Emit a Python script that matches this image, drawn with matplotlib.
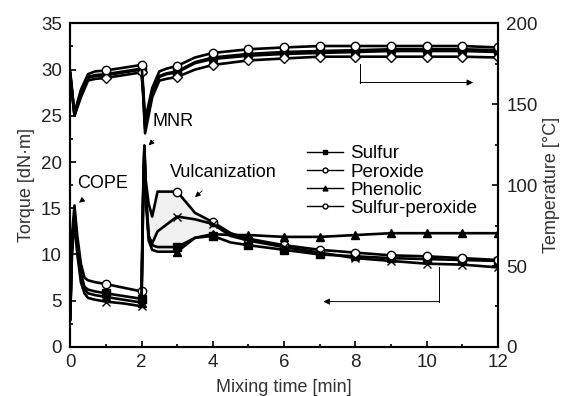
import numpy as np
import matplotlib.pyplot as plt
from matplotlib.lines import Line2D

plt.rcParams['font.family'] = ['Liberation Sans', 'DejaVu Sans']

# torque data [dN.m]
t_tq = [0, 0.05, 0.12, 0.2, 0.3, 0.4, 0.5, 0.7, 1, 1.5, 2, 2.04, 2.08, 2.12, 2.2, 2.3, 2.45,
        3, 3.5, 4, 4.5, 5, 6, 7, 8, 9, 10, 11, 12]
tq_sulfur = [3, 11, 14.5, 11, 8, 6.5, 6.2, 6.0, 5.8, 5.5, 5.2, 15, 21.5, 17, 12, 11.0, 10.8,
             10.8, 11.8, 12.0, 11.3, 11.0, 10.5, 10.0, 9.8, 9.6, 9.5, 9.4, 9.3]
tq_peroxide = [3, 12, 15.3, 12, 9, 7.5, 7.2, 7.0, 6.8, 6.4, 6.0, 16, 21.8, 18, 15.5, 14.1, 16.8,
               16.8, 14.5, 13.5, 12.3, 11.7, 11.0, 10.5, 10.2, 9.9, 9.8, 9.6, 9.4]
tq_phenolic = [3, 10, 13.5, 10.5, 7.5, 6.2, 5.8, 5.6, 5.4, 5.1, 4.8, 14, 21, 16, 11.5, 10.5, 10.3,
               10.3, 11.8, 12.2, 12.1, 12.1, 11.9, 11.9, 12.1, 12.3, 12.3, 12.3, 12.3]
tq_sulfperox = [3, 10.5, 13.8, 10, 7, 5.8, 5.3, 5.1, 4.9, 4.7, 4.4, 15, 21.7, 16.5, 12, 11.2, 12.5,
                14.1, 13.8, 13.3, 12.0, 11.5, 10.8, 10.2, 9.6, 9.3, 9.0, 8.9, 8.6]

# temperature data [C]
t_tp = [0, 0.12, 0.3, 0.5, 0.7, 1, 1.5, 2, 2.05, 2.1, 2.3, 2.5, 2.7, 3, 3.5, 4,
        5, 6, 7, 8, 9, 10, 11, 12]
tp_sulfur = [169.1, 143.4, 156.6, 166.9, 168.0, 168.6, 170.3, 172.0, 157.1, 137.1, 157.1, 167.4,
             169.1, 170.3, 176.0, 178.9, 181.1, 182.3, 182.9, 183.4, 184.0, 184.0, 184.0, 183.4]
tp_peroxide = [170.3, 144.6, 158.9, 168.6, 170.3, 170.9, 172.6, 174.3, 160.0, 140.0, 160.0, 170.3,
               172.0, 173.7, 178.9, 181.7, 184.0, 185.1, 186.0, 186.0, 186.0, 186.0, 186.0, 185.1]
tp_phenolic = [168.8, 143.0, 156.0, 166.3, 167.4, 168.0, 169.7, 171.4, 156.0, 135.0, 156.0, 166.9,
               168.6, 169.7, 175.4, 178.0, 180.0, 181.1, 181.7, 182.3, 182.9, 182.9, 182.9, 182.3]
tp_sulfperox = [168.6, 142.9, 154.3, 164.6, 165.7, 166.3, 168.0, 169.7, 154.3, 132.0, 154.3, 164.6,
                165.7, 166.9, 171.4, 174.3, 177.1, 178.3, 179.4, 179.4, 179.4, 179.4, 179.4, 178.9]


def marks(t):
    t = np.asarray(t)
    return list(np.where(np.isclose(t, np.round(t)) & (t >= 1))[0])


fig = plt.figure(figsize=(5.66, 3.96), dpi=100)
ax = fig.add_axes([0.124, 0.124, 0.756, 0.817])
ax2 = ax.twinx()

# light shading of the vulcanization zone
tt = np.array(t_tq)
low = np.minimum(np.minimum(tq_sulfur, tq_phenolic), tq_sulfperox)
ax.fill_between(tt, low, tq_peroxide, where=(tt >= 2.2) & (tt <= 4), color='#f0f0f0', lw=0, zorder=1)

lw = 1.9
ms = 5.5
m_tq = marks(t_tq)
ax.plot(t_tq, tq_sulfur, '-s', color='k', lw=lw, ms=ms, markevery=m_tq, zorder=3)
ax.plot(t_tq, tq_peroxide, '-o', color='k', mfc='white', lw=lw, ms=ms + 0.5, markevery=m_tq, zorder=3)
ax.plot(t_tq, tq_phenolic, '-^', color='k', lw=lw, ms=ms, markevery=m_tq, zorder=3)
ax.plot(t_tq, tq_sulfperox, '-x', color='k', lw=lw, ms=ms, markevery=m_tq, zorder=3)

m_tp = marks(t_tp)
ax2.plot(t_tp, tp_sulfur, '-s', color='k', lw=lw, ms=ms, markevery=m_tp)
ax2.plot(t_tp, tp_phenolic, '-^', color='k', lw=lw, ms=ms, markevery=m_tp)
ax2.plot(t_tp, tp_sulfperox, '-D', color='k', mfc='white', lw=lw, ms=ms, markevery=m_tp)
ax2.plot(t_tp, tp_peroxide, '-o', color='k', mfc='white', lw=lw, ms=ms + 0.5, markevery=m_tp)

ax.set_xlim(0, 12)
ax.set_ylim(0, 35)
ax2.set_ylim(0, 200)
ax.set_xticks(range(0, 13, 2))
ax.set_xticks(range(1, 12, 2), minor=True)
ax.set_yticks(range(0, 36, 5))
ax.set_yticks(np.arange(2.5, 35, 5), minor=True)
ax2.set_yticks(range(0, 201, 50))
ax2.set_yticks(range(25, 200, 50), minor=True)

for a in (ax, ax2):
    a.tick_params(which='both', direction='in', labelsize=13.5, width=1.2, labelcolor='#222222')
    a.tick_params(which='major', length=4)
    a.tick_params(which='minor', length=2.5)
    for s in a.spines.values():
        s.set_linewidth(1.5)
ax.tick_params(axis='x', pad=5)
ax.tick_params(axis='y', pad=6)
ax2.tick_params(axis='y', pad=6)

ax.set_xlabel('Mixing time [min]', fontsize=13, color='#333333', labelpad=6)
ax.set_ylabel('Torque [dN·m]', fontsize=13, color='#333333')
ax2.set_ylabel('Temperature [°C]', fontsize=13, color='#333333')

# annotations
ax.annotate('COPE', xy=(0.25, 15.6), xytext=(0.2, 17.7), fontsize=13, ha='left', va='center',
            arrowprops=dict(arrowstyle='-|>', lw=0.6, color='k', shrinkA=8, shrinkB=0, mutation_scale=8))
ax.annotate('MNR', xy=(2.2, 21.8), xytext=(2.3, 24.4), fontsize=13, ha='left', va='center',
            arrowprops=dict(arrowstyle='-|>', lw=0.6, color='k', shrinkA=8, shrinkB=0, mutation_scale=8))
ax.annotate('Vulcanization', xy=(3.5, 16.2), xytext=(2.8, 18.9), fontsize=13, ha='left', va='center',
            arrowprops=dict(arrowstyle='-|>', lw=0.6, color='k', shrinkA=8, shrinkB=0, mutation_scale=8))

# axis pointer arrows
ax.plot([8.13, 8.13], [30.6, 28.6], color='k', lw=0.7)
ax.annotate('', xy=(11.3, 28.6), xytext=(8.13, 28.6),
            arrowprops=dict(arrowstyle='-|>', lw=0.7, color='k', shrinkA=0, shrinkB=0, mutation_scale=9))
ax.plot([10.35, 10.35], [8.6, 4.9], color='k', lw=0.7)
ax.annotate('', xy=(7.1, 4.9), xytext=(10.35, 4.9),
            arrowprops=dict(arrowstyle='-|>', lw=0.7, color='k', shrinkA=0, shrinkB=0, mutation_scale=9))

handles = [Line2D([], [], color='k', marker='s', ms=3.5, lw=1),
           Line2D([], [], color='k', marker='o', mfc='white', ms=3.5, lw=1),
           Line2D([], [], color='k', marker='^', ms=3.5, lw=1),
           Line2D([], [], color='k', marker='o', mfc='white', ms=3.5, lw=1)]
ax2.legend(handles, ['Sulfur', 'Peroxide', 'Phenolic', 'Sulfur-peroxide'], loc='upper left',
           bbox_to_anchor=(0.532, 0.652), frameon=False, fontsize=13.5, handlelength=1.9,
           handletextpad=0.4, labelspacing=0.05, borderpad=0)

fig.savefig('out.png', dpi=100)
